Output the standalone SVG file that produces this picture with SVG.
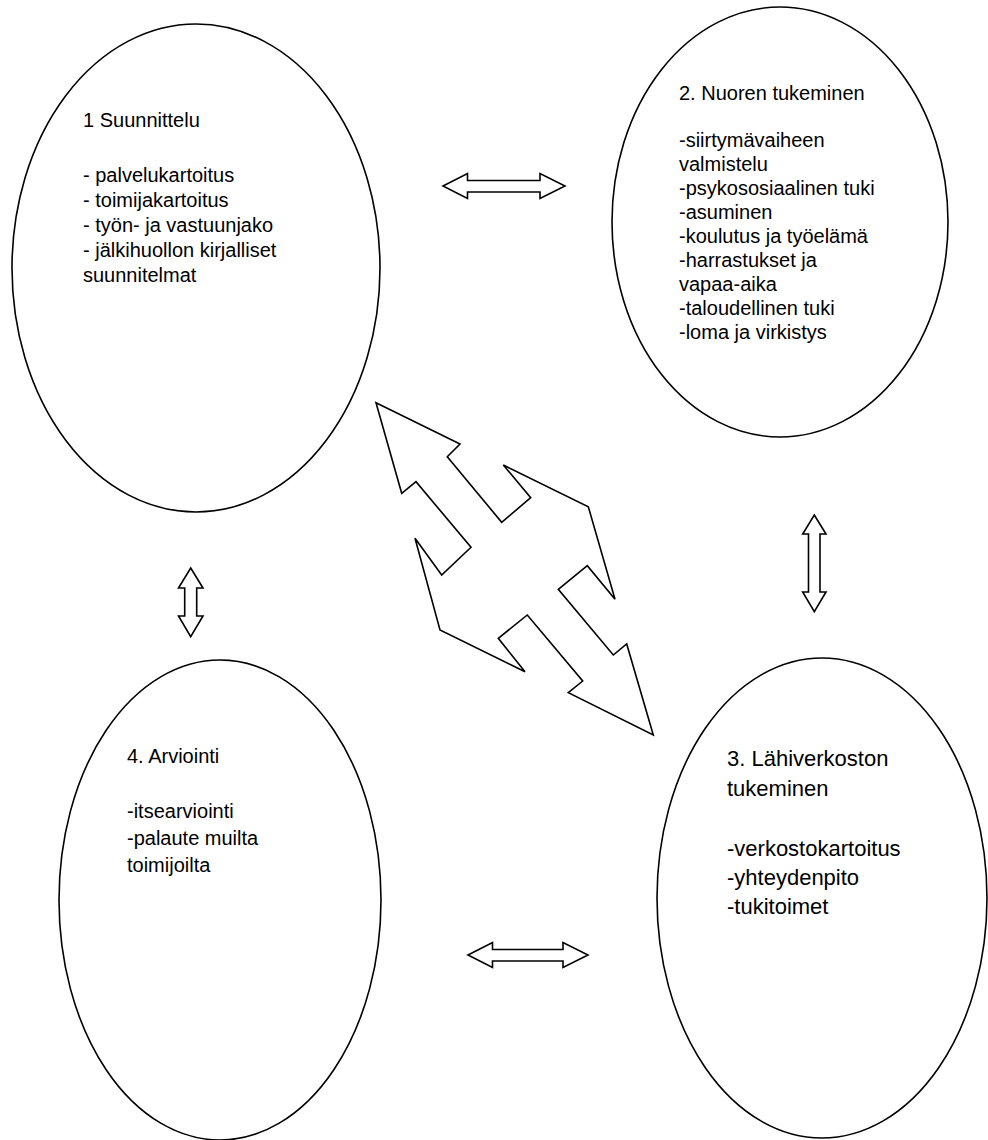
<svg xmlns="http://www.w3.org/2000/svg" width="988" height="1140" viewBox="0 0 988 1140">
  <style>
    .node ellipse { fill: #ffffff; stroke: #000000; stroke-width: 1.6; }
    .arrow { fill: #ffffff; stroke: #000000; stroke-width: 1.6; stroke-linejoin: miter; }
    text { font-family: "Liberation Sans", Arial, sans-serif; fill: #000000; }
    .t20 { font-size: 20px; }
    .t22 { font-size: 22px; }
  </style>
  <rect x="0" y="0" width="988" height="1140" fill="#ffffff"/>

  <g id="node-suunnittelu" class="node">
    <ellipse cx="196" cy="268" rx="184" ry="244"/>
    <text class="t20" x="83">
      <tspan x="83" y="127">1 Suunnittelu</tspan>
      <tspan x="83" y="182">- palvelukartoitus</tspan>
      <tspan x="83" y="207">- toimijakartoitus</tspan>
      <tspan x="83" y="232">- työn- ja vastuunjako</tspan>
      <tspan x="83" y="257">- jälkihuollon kirjalliset</tspan>
      <tspan x="83" y="282">suunnitelmat</tspan>
    </text>
  </g>

  <g id="node-nuoren-tukeminen" class="node">
    <ellipse cx="780" cy="222" rx="168" ry="215"/>
    <text class="t20" x="679">
      <tspan x="679" y="100">2. Nuoren tukeminen</tspan>
      <tspan x="679" y="147">-siirtymävaiheen</tspan>
      <tspan x="679" y="171">valmistelu</tspan>
      <tspan x="679" y="195">-psykososiaalinen tuki</tspan>
      <tspan x="679" y="219">-asuminen</tspan>
      <tspan x="679" y="243">-koulutus ja työelämä</tspan>
      <tspan x="679" y="267">-harrastukset ja</tspan>
      <tspan x="679" y="291">vapaa-aika</tspan>
      <tspan x="679" y="315">-taloudellinen tuki</tspan>
      <tspan x="679" y="339">-loma ja virkistys</tspan>
    </text>
  </g>

  <g id="node-arviointi" class="node">
    <ellipse cx="220" cy="900" rx="161" ry="240"/>
    <text class="t20" x="127">
      <tspan x="127" y="763">4. Arviointi</tspan>
      <tspan x="127" y="818">-itsearviointi</tspan>
      <tspan x="127" y="845">-palaute muilta</tspan>
      <tspan x="127" y="872">toimijoilta</tspan>
    </text>
  </g>

  <g id="node-lahiverkosto" class="node">
    <ellipse cx="822" cy="898" rx="165" ry="240"/>
    <text class="t22" x="727">
      <tspan x="727" y="766">3. Lähiverkoston</tspan>
      <tspan x="727" y="796">tukeminen</tspan>
      <tspan x="727" y="856">-verkostokartoitus</tspan>
      <tspan x="727" y="885">-yhteydenpito</tspan>
      <tspan x="727" y="914">-tukitoimet</tspan>
    </text>
  </g>

  <g id="connectors">
    <path class="arrow" d="M443,186 L467.5,173.5 L467.5,180.5 L540,180.5 L540,173.5 L565,186 L540,198.5 L540,192 L467.5,192 L467.5,198.5 Z"/>
    <path class="arrow" d="M468,955 L492.5,942.5 L492.5,949.5 L563,949.5 L563,942.5 L588,955 L563,967.5 L563,961 L492.5,961 L492.5,967.5 Z"/>
    <path class="arrow" d="M190.7,568 L203,588 L196.7,588 L196.7,616 L203,616 L190.7,636.7 L178.5,616 L184.7,616 L184.7,588 L178.5,588 Z"/>
    <path class="arrow" d="M814.3,515 L826,534 L820,534 L820,592 L826,592 L814.3,611.7 L802.7,592 L808.5,592 L808.5,534 L802.7,534 Z"/>
    <path class="arrow" d="M376,402.7 L460,444 L447.3,456.7 L501.7,522.3 L530.7,497.7 L503.3,465 L588.3,506.7 L615,599.3 L587.3,565.7 L558.3,589.3 L613.3,655 L626.7,644 L653.3,735 L568.3,692.7 L582.7,681 L527.3,615 L498.3,638.3 L525,671.7 L440,630 L415,538.3 L441.7,575 L471,547.3 L416,481.7 L401.7,493.3 Z"/>
  </g>
</svg>
